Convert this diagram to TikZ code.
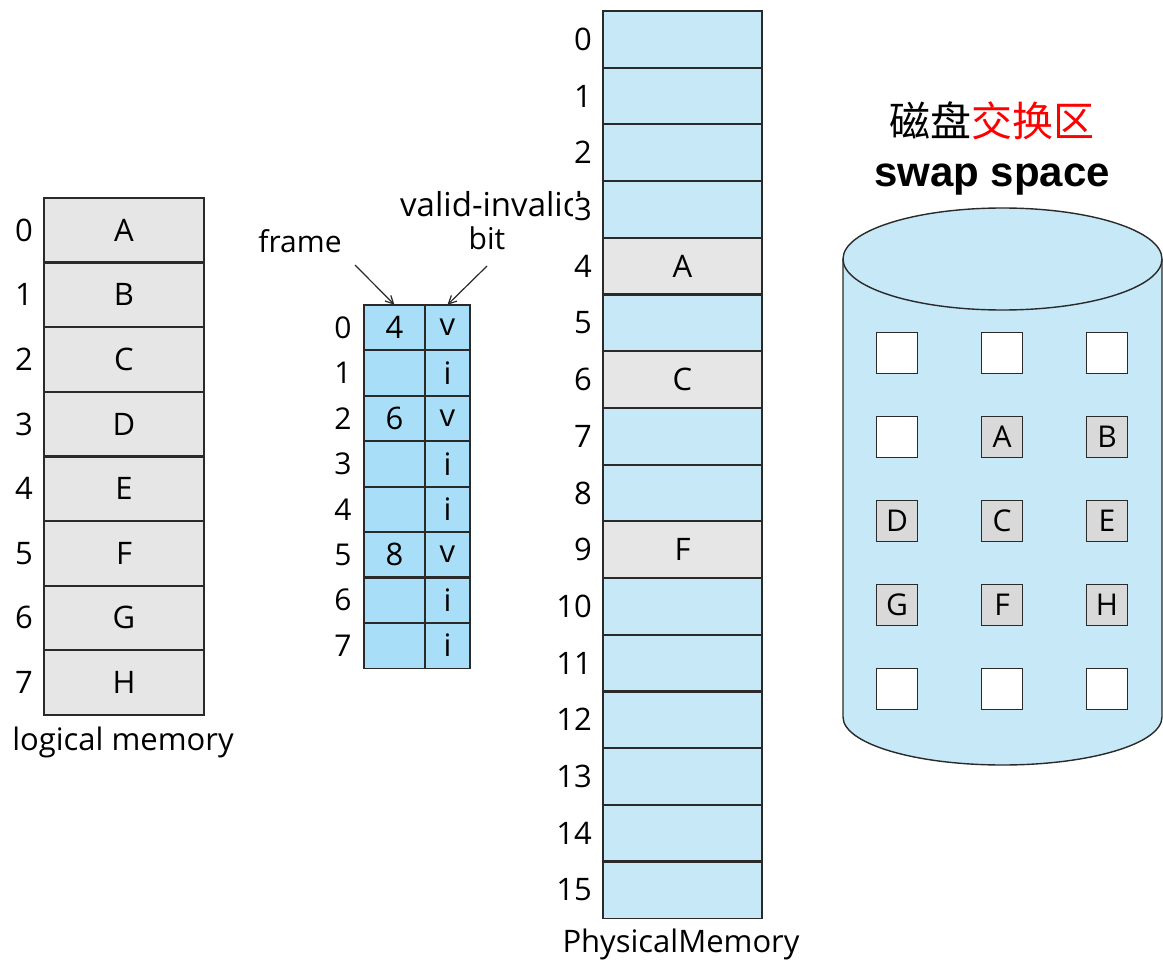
\documentclass[tikz,border=0pt]{standalone}
\usepackage{fontspec}
\setmainfont{Open Sans}
\newfontfamily\cjk{Noto Sans CJK SC}
\newfontfamily\arialf{Liberation Sans}
\usetikzlibrary{arrows.meta}
\definecolor{lgray}{HTML}{E6E6E6}
\definecolor{sgray}{HTML}{D9D9D9}
\definecolor{ptblue}{HTML}{A9DEF8}
\definecolor{pmblue}{HTML}{C6E8F7}
\definecolor{edge}{HTML}{2A2A2A}
\tikzset{
  cellbase/.style={inner sep=0pt, font=\fontsize{31}{31}\selectfont},
  lcell/.style={cellbase, fill=lgray, minimum width=160pt, minimum height=64.6pt},
  fcell/.style={cellbase, fill=ptblue, minimum width=61pt, minimum height=45.4pt},
  bcell/.style={cellbase, fill=ptblue, minimum width=45pt, minimum height=45.4pt},
  pcell/.style={cellbase, fill=pmblue, minimum width=159pt, minimum height=56.7pt},
  gcell/.style={pcell, fill=lgray},
  border/.style={draw=edge, line width=1.8pt},
  num/.style={inner sep=0pt, font=\fontsize{31}{31}\selectfont},
  pnum/.style={inner sep=0pt, font=\fontsize{30}{30}\selectfont},
  lbl/.style={inner sep=0pt, font=\fontsize{30}{30}\selectfont},
  sqe/.style={draw=edge, line width=1.4pt, fill=white, minimum size=41pt, inner sep=0pt, font=\fontsize{30}{30}\selectfont},
  sqf/.style={sqe, fill=sgray},
  arr/.style={draw=edge, line width=1.2pt, -{Straight Barb[length=8pt,width=8pt]}},
}
\begin{document}
\begin{tikzpicture}[x=1pt,y=-1pt]
\useasboundingbox (0,0) rectangle (1163,960);
% logical memory
\foreach \t [count=\j from 0] in {A,B,C,D,E,F,G,H}{
  \node[lcell] (L\j) at (124,{230.3+64.6*\j}) {\t};
  \node[num] (LN\j) at (24,{230.3+64.6*\j}) {\j};
}
\foreach \j in {0,...,7}{\draw[border] (L\j.north west) rectangle (L\j.south east);}
\node[lbl, anchor=base, font=\fontsize{31}{31}\selectfont] (lmlabel) at (123,750) {logical memory};
% page table
\foreach \f/\b [count=\j from 0] in {4/v,/i,6/v,/i,/i,8/v,/i,/i}{
  \node[fcell] (PF\j) at (394.5,{327.7+45.4*\j}) {\f};
  \node[bcell] (PB\j) at (447.5,{327.7+45.4*\j}) {\b};
  \node[pnum] (PN\j) at (343,{327.7+45.4*\j}) {\j};
}
\foreach \j in {0,...,7}{
  \draw[border] (PF\j.north west) rectangle (PF\j.south east);
  \draw[border] (PB\j.north west) rectangle (PB\j.south east);
}
\node[lbl, anchor=base] (frame) at (300,253) {frame};
\node[lbl, anchor=base west, font=\fontsize{33}{33}\selectfont] (valid) at (400,217) {valid-invalid};
\node[lbl, anchor=base] (bit) at (487,250) {bit};
\coordinate (fa) at (355,265);
\coordinate (va) at (487,266);
\draw[arr] (fa) -- (PF0.north);
\draw[arr] (va) -- (PB0.north);
% physical memory
\foreach \j in {0,...,15}{
  \node[pcell] (M\j) at (682.5,{39.35+56.7*\j}) {};
  \node[num, anchor=east, fill=white, inner sep=1pt] (MN\j) at (593,{39.35+56.7*\j}) {\j};
}
\node[gcell] (MA) at (M4) {A};
\node[gcell] (MC) at (M6) {C};
\node[gcell] (MF) at (M9) {F};
\foreach \j in {0,...,15}{\draw[border] (M\j.north west) rectangle (M\j.south east);}
\node[lbl, anchor=base, font=\fontsize{31}{31}\selectfont] (pmlabel) at (681,952) {PhysicalMemory};
% swap space
\node[inner sep=0pt, font=\cjk\fontsize{41}{41}\selectfont] (zh) at (992,121) {磁盘\textcolor{red}{交换区}};
\node[inner sep=0pt, anchor=base, font=\arialf\bfseries\fontsize{42}{42}\selectfont] (swap) at (992,187) {swap space};
\fill[pmblue] (843,259) -- (843,717) arc[start angle=180,end angle=360,x radius=159.5pt,y radius=48pt] -- (1162,259) -- cycle;
\draw[draw=edge, line width=1.4pt] (843,259) -- (843,717) arc[start angle=180,end angle=360,x radius=159.5pt,y radius=48pt] -- (1162,259);
\draw[draw=edge, line width=1.4pt, fill=pmblue] (1002.5,259) ellipse[x radius=159.5pt, y radius=51pt];
\foreach \t [count=\k from 0] in {,,,,A,B,D,C,E,G,F,H,,,}{
  \pgfmathtruncatemacro{\r}{div(\k,3)}
  \pgfmathtruncatemacro{\c}{mod(\k,3)}
  \ifx\t\empty
    \node[sqe] (S\k) at ({897+105*\c},{353+84*\r}) {};
  \else
    \node[sqf] (S\k) at ({897+105*\c},{353+84*\r}) {\t};
  \fi
}
\end{tikzpicture}
\end{document}
